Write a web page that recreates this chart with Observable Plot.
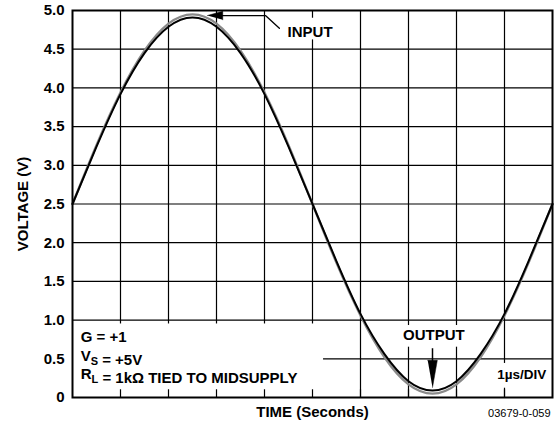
<!DOCTYPE html>
<html>
<head>
<meta charset="utf-8">
<script src="https://cdn.jsdelivr.net/npm/d3@7"></script>
<script src="https://cdn.jsdelivr.net/npm/@observablehq/plot@0.6"></script>
<style>
  html, body { margin: 0; padding: 0; background: white; }
  #chart { width: 557px; height: 425px; }
</style>
</head>
<body>
<div id="chart"></div>
<script>
// time in µs (1 µs per division)
const time = [0,0.5,1,1.5,2,2.5,3,3.5,4,4.5,5,5.5,6,6.5,7,7.5,8,8.5,9,9.5,10];
// values (V)
const inputV  = [2.5,3.26,3.94,4.48,4.83,4.95,4.83,4.48,3.94,3.26,2.5,1.74,1.06,0.52,0.17,0.05,0.17,0.52,1.06,1.74,2.5];
const outputV = [2.5,3.24,3.92,4.45,4.79,4.91,4.79,4.45,3.92,3.24,2.5,1.76,1.08,0.56,0.21,0.09,0.21,0.56,1.08,1.76,2.5];
const yTicks = [0,0.5,1,1.5,2,2.5,3,3.5,4,4.5,5];
const xGrid = [1,2,3,4,5,6,7,8,9];
const yGrid = [0.5,1,1.5,2,2.5,3,3.5,4,4.5];
const notes = ["G = +1", "V{S} = +5V", "R{L} = 1kΩ TIED TO MIDSUPPLY"];
const notesY = [0.775, 0.53, 0.30];

const inputData = time.map((t, i) => ({t, v: inputV[i]}));
const outputData = time.map((t, i) => ({t, v: outputV[i]}));
const noteData = notes.map((s, i) => ({s, y: notesY[i]}));

const font = "Arial, 'Liberation Sans', Helvetica, sans-serif";

const plot = Plot.plot({
  width: 557,
  height: 425,
  marginLeft: 72,
  marginRight: 5,
  marginTop: 10,
  marginBottom: 28,
  style: {fontFamily: font, fontSize: "15px", fontWeight: "bold", color: "black", background: "white"},
  x: {domain: [0, 10], axis: null},
  y: {
    domain: [0, 5],
    ticks: yTicks,
    tickFormat: d => d === 0 ? "0" : d.toFixed(1),
    tickSize: 0,
    tickPadding: 8,
    label: null
  },
  marks: [
    Plot.ruleX(xGrid, {stroke: "black", strokeWidth: 1.2}),
    Plot.ruleY(yGrid, {stroke: "black", strokeWidth: 1.2}),
    // white backgrounds behind annotations
    Plot.rect([{x1: 0, x2: 5.23, y1: 0, y2: 0.95}, {x1: 4.35, x2: 5.6, y1: 4.62, y2: 4.9},
               {x1: 6.85, x2: 8.25, y1: 0.65, y2: 0.93}, {x1: 8.72, x2: 9.97, y1: 0.12, y2: 0.44}],
      {x1: "x1", x2: "x2", y1: "y1", y2: "y2", fill: "white"}),
    Plot.ruleX(xGrid, {y1: 0, y2: 0.1, stroke: "black", strokeWidth: 1.2}),
    Plot.line(inputData, {x: "t", y: "v", stroke: "#8a8a8a", strokeWidth: 2.4, curve: "natural"}),
    Plot.line(outputData, {x: "t", y: "v", stroke: "black", strokeWidth: 2, curve: "natural"}),
    Plot.frame({stroke: "black", strokeWidth: 2}),
    // INPUT label and leader
    Plot.text(["INPUT"], {x: 4.48, y: 4.716, text: d => d, textAnchor: "start", lineAnchor: "middle"}),
    Plot.line([{t: 3.0, v: 4.935}, {t: 4.02, v: 4.935}, {t: 4.31, v: 4.77}], {x: "t", y: "v", stroke: "black", strokeWidth: 1.3}),
    Plot.line([{t: 2.81, v: 4.935}, {t: 3.13, v: 4.99}, {t: 3.13, v: 4.88}], {x: "t", y: "v", fill: "black", stroke: "black", strokeWidth: 0.5}),
    // OUTPUT label and arrow
    Plot.text(["OUTPUT"], {x: 7.53, y: 0.80, text: d => d, textAnchor: "middle", lineAnchor: "middle"}),
    Plot.ruleX([7.5], {y1: 0.63, y2: 0.4, stroke: "black", strokeWidth: 1.5}),
    Plot.line([{t: 7.5, v: 0.13}, {t: 7.6, v: 0.48}, {t: 7.4, v: 0.48}], {x: "t", y: "v", fill: "black", stroke: "black", strokeWidth: 0.5}),
    // conditions
    Plot.text(noteData, {x: 0.17, y: "y", text: "s", textAnchor: "start", lineAnchor: "middle"}),
    Plot.text(["1µs/DIV"], {x: 9.87, y: 0.30, text: d => d, textAnchor: "end", lineAnchor: "middle", fontSize: 13.5}),
    // axis labels and figure code
    Plot.text(["VOLTAGE (V)"], {frameAnchor: "left", text: d => d, rotate: -90, dx: -49, textAnchor: "middle", lineAnchor: "middle"}),
    Plot.text(["TIME (Seconds)"], {frameAnchor: "bottom", text: d => d, dy: 15, lineAnchor: "middle"}),
    Plot.text(["03679-0-059"], {frameAnchor: "bottom-right", text: d => d, dy: 16, dx: -2, textAnchor: "end", lineAnchor: "middle", fontSize: 11, fontWeight: "normal"})
  ]
});

// turn X{Y} into subscripts
d3.select(plot).selectAll("text").each(function() {
  const el = d3.select(this);
  const s = this.textContent;
  if (!/\{[^}]+\}/.test(s)) return;
  const parts = s.split(/(\{[^}]+\})/).filter(p => p.length);
  while (this.firstChild) this.removeChild(this.firstChild);
  parts.forEach(p => {
    if (p.startsWith("{")) {
      el.append("tspan").attr("font-size", "11px").attr("dy", "4").text(p.slice(1, -1));
      el.append("tspan").attr("dy", "-4").text("");
    } else {
      el.append("tspan").text(p);
    }
  });
});

document.getElementById("chart").appendChild(plot);
</script>
</body>
</html>
